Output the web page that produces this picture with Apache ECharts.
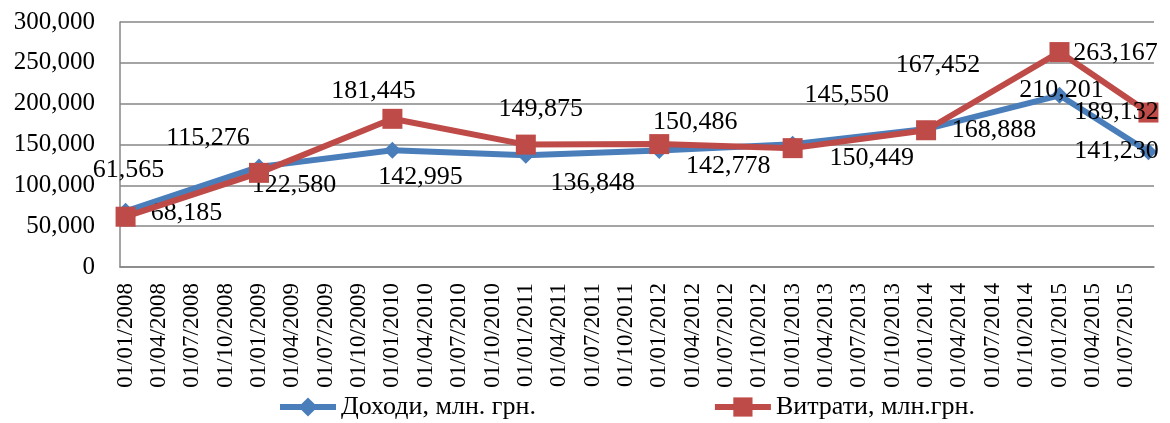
<!DOCTYPE html>
<html>
<head>
<meta charset="utf-8">
<script src="https://cdn.jsdelivr.net/npm/echarts@6/dist/echarts.min.js"></script>
<style>
  html, body { margin: 0; padding: 0; background: #fff; }
  #chart { width: 1170px; height: 423px; }
</style>
</head>
<body>
<div id="chart"></div>
<script>
// dates of the points (dd/mm/yyyy)
const pointDates = ['01/01/2008', '01/01/2009', '01/01/2010', '01/01/2011', '01/01/2012',
  '01/01/2013', '01/01/2014', '01/01/2015', '01/09/2015']
const incomeValues = [68185, 122580, 142995, 136848, 142778, 150449, 168888, 210201, 141230]
const expenseValues = [61565, 115276, 181445, 149875, 150486, 145550, 167452, 263167, 189132]
const seriesNames = ['Доходи, млн. грн.', 'Витрати, млн.грн.']
const yTicks = [0, 50000, 100000, 150000, 200000, 250000, 300000]

// hand-placed data labels, like in the original (px from the point)
const incomeLabelOffset = [[61, 2], [35, 18], [28, 27], [67, 28], [69, 16], [79, 14], [68, 1], [2, -5], [-32, 0]]
const expenseLabelOffset = [[3, -47], [-51, -35], [-19, -28], [15, -35], [36, -22], [54, -53], [12, -65], [56, 1], [-32, 0]]

// monthly date axis, from first to last point
const months = []
const [, m0, y0] = pointDates[0].split('/').map(Number)
const [, m1, y1] = pointDates[pointDates.length - 1].split('/').map(Number)
for (let y = y0, m = m0; y < y1 || (y === y1 && m <= m1); m++) {
  if (m > 12) { m = 1; y++ }
  months.push('01/' + String(m).padStart(2, '0') + '/' + y)
}

const font = "'Liberation Serif', 'Times New Roman', serif"
const fmt = v => v.toLocaleString('en-US')

function buildData (values, offsets) {
  return values.map((v, i) => ({
    value: [months.indexOf(pointDates[i]), v],
    label: { offset: offsets[i] }
  }))
}

const chart = echarts.init(document.getElementById('chart'))
chart.setOption({
  animation: false,
  grid: { left: 120, right: 16, top: 22, bottom: 156 },
  legend: {
    data: seriesNames,
    left: 272,
    top: 389,
    itemWidth: 56,
    itemHeight: 24,
    itemGap: 176,
    lineStyle: { width: 6 },
    textStyle: { fontFamily: font, fontSize: 26, color: '#000' }
  },
  xAxis: {
    type: 'category',
    data: months,
    boundaryGap: true,
    axisLine: { lineStyle: { color: '#868686', width: 1.5 } },
    axisTick: { show: false },
    axisLabel: {
      interval: 2,
      rotate: 90,
      margin: 16,
      fontFamily: font,
      fontSize: 23,
      color: '#000'
    }
  },
  yAxis: {
    type: 'value',
    min: yTicks[0],
    max: yTicks[yTicks.length - 1],
    interval: 50000,
    axisLine: { show: true, lineStyle: { color: '#868686', width: 1.5 } },
    axisTick: { show: false },
    splitLine: { lineStyle: { color: '#868686', width: 1.5 } },
    axisLabel: {
      margin: 25,
      fontFamily: font,
      fontSize: 25,
      color: '#000',
      formatter: fmt
    }
  },
  series: [
    {
      name: seriesNames[0],
      type: 'line',
      data: buildData(incomeValues, incomeLabelOffset),
      showAllSymbol: true,
      symbol: 'diamond',
      symbolSize: 17,
      lineStyle: { color: '#4A7EBB', width: 6 },
      itemStyle: { color: '#4A7EBB' },
      label: {
        show: true,
        position: 'inside',
        fontFamily: font,
        fontSize: 26,
        color: '#000',
        formatter: p => fmt(p.value[1])
      },
      z: 2
    },
    {
      name: seriesNames[1],
      type: 'line',
      data: buildData(expenseValues, expenseLabelOffset),
      showAllSymbol: true,
      symbol: 'rect',
      symbolSize: 20,
      lineStyle: { color: '#BE4B48', width: 6 },
      itemStyle: { color: '#BE4B48' },
      label: {
        show: true,
        position: 'inside',
        fontFamily: font,
        fontSize: 26,
        color: '#000',
        formatter: p => fmt(p.value[1])
      },
      z: 3
    }
  ]
})
</script>
</body>
</html>
